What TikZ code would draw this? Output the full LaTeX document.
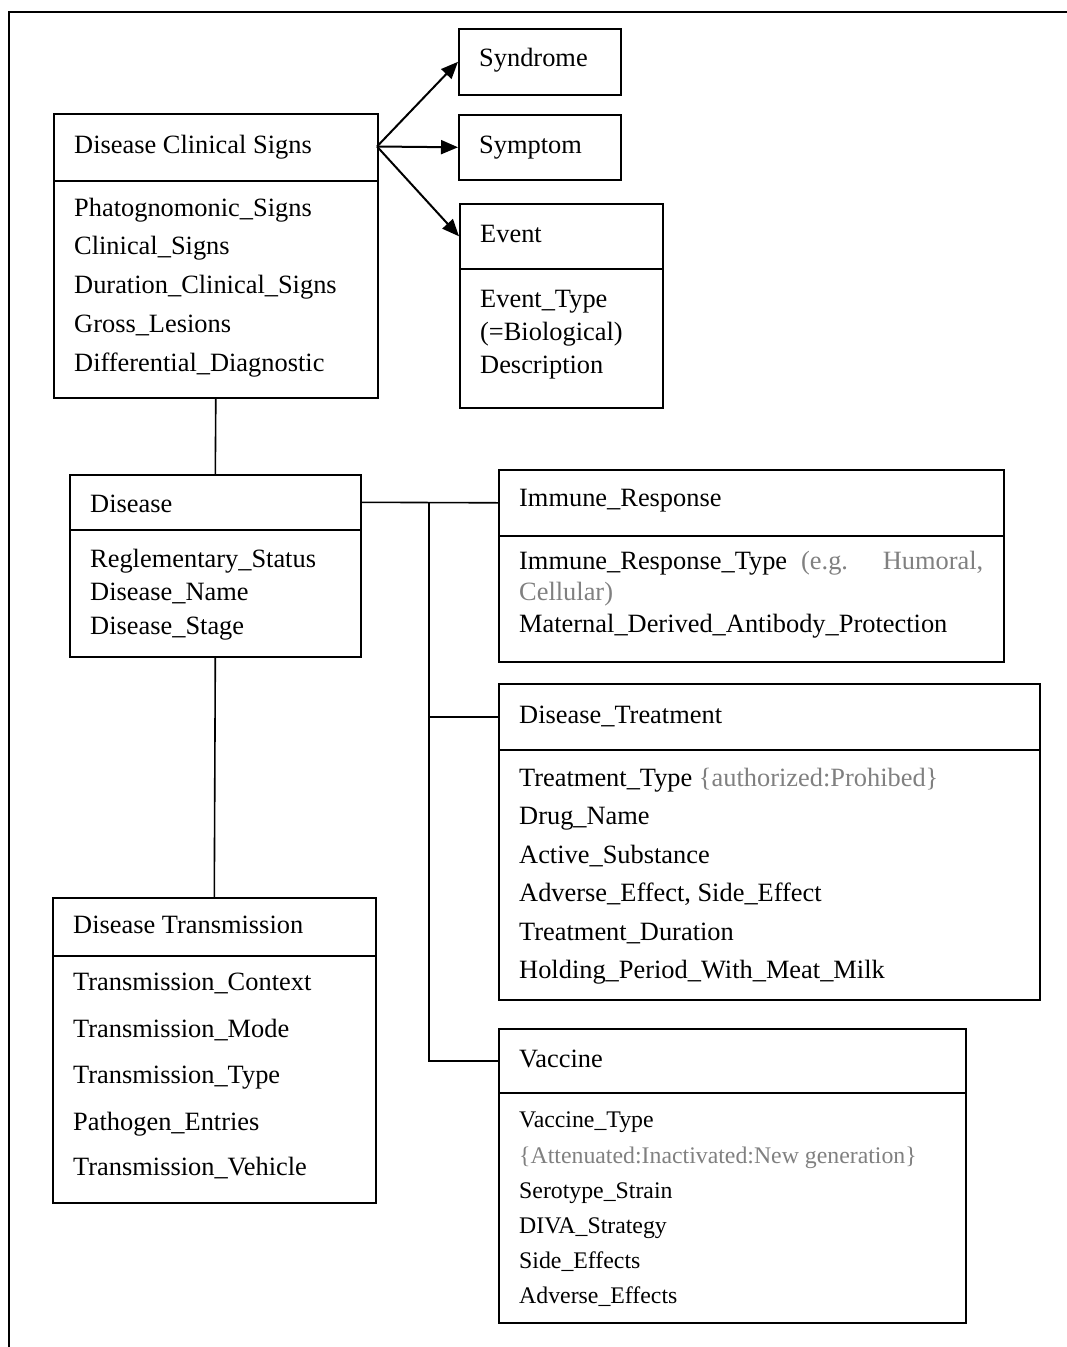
\documentclass[tikz,border=0pt]{standalone}
\usepackage{fontspec}
\setmainfont{Liberation Serif}
\usetikzlibrary{arrows.meta}
\definecolor{note}{RGB}{128,128,128}
\begin{document}
\begin{tikzpicture}[x=1pt,y=-1pt,
  box/.style={draw, line width=1.6pt, inner sep=0pt, anchor=north west},
  lbl/.style={anchor=base west, inner sep=0pt, font=\fontsize{26.4}{30}\selectfont},
  sml/.style={anchor=base west, inner sep=0pt, font=\fontsize{23.8}{28}\selectfont},
  link/.style={line width=1.6pt},
  arr/.style={line width=2pt, -{Triangle[length=17pt,width=14pt]}},
  frame/.style={line width=1.2pt}]
\useasboundingbox (0,0) rectangle (1067,1347);
% outer frame (top and left sides only)
\coordinate (f1) at (1067,12);
\coordinate (f2) at (9,12);
\coordinate (f3) at (9,1347);
\draw[frame] (f1) -- (f2) -- (f3);

% boxes
\node[box, minimum width=324pt, minimum height=67pt] (dcst) at (53,113) {};
\node[box, minimum width=324pt, minimum height=217pt] (dcsb) at (53,180) {};
\node[box, minimum width=162pt, minimum height=66pt] (syn) at (458,28) {};
\node[box, minimum width=162pt, minimum height=65pt] (sym) at (458,114) {};
\node[box, minimum width=203pt, minimum height=65pt] (evt) at (459,203) {};
\node[box, minimum width=203pt, minimum height=139pt] (evb) at (459,268) {};
\node[box, minimum width=291pt, minimum height=55pt] (dist) at (69,474) {};
\node[box, minimum width=291pt, minimum height=127pt] (disb) at (69,529) {};
\node[box, minimum width=505pt, minimum height=66pt] (imt) at (498,469) {};
\node[box, minimum width=505pt, minimum height=126pt] (imb) at (498,535) {};
\node[box, minimum width=541pt, minimum height=66pt] (trt) at (498,683) {};
\node[box, minimum width=541pt, minimum height=250pt] (trb) at (498,749) {};
\node[box, minimum width=467pt, minimum height=64pt] (vat) at (498,1028) {};
\node[box, minimum width=467pt, minimum height=230pt] (vab) at (498,1092) {};
\node[box, minimum width=323pt, minimum height=58pt] (dtt) at (52,897) {};
\node[box, minimum width=323pt, minimum height=247pt] (dtb) at (52,955) {};

% texts: Disease Clinical Signs
\node[lbl] (a0) at (74,153) {Disease Clinical Signs};
\node[lbl] (a1) at (74,216) {Phatognomonic\_Signs};
\node[lbl] (a2) at (74,254) {Clinical\_Signs};
\node[lbl] (a3) at (74,293) {Duration\_Clinical\_Signs};
\node[lbl] (a4) at (74,332) {Gross\_Lesions};
\node[lbl] (a5) at (74,371) {Differential\_Diagnostic};
% Syndrome, Symptom, Event
\node[lbl] (b0) at (479,66) {Syndrome};
\node[lbl] (c0) at (479,153) {Symptom};
\node[lbl] (e0) at (480,242) {Event};
\node[lbl] (e1) at (480,307) {Event\_Type};
\node[lbl] (e2) at (480,340) {(=Biological)};
\node[lbl] (e3) at (480,373) {Description};
% Disease
\node[lbl] (d0) at (90,512) {Disease};
\node[lbl] (d1) at (90,567) {Reglementary\_Status};
\node[lbl] (d2) at (90,600) {Disease\_Name};
\node[lbl] (d3) at (90,634) {Disease\_Stage};
% Immune response
\node[lbl] (i0) at (519,506) {Immune\_Response};
\node[lbl] (i1) at (519,569) {\hbox to 464pt{Immune\_Response\_Type\hspace{14pt}\textcolor{note}{(e.g.}\hfill\textcolor{note}{Humoral,}}};
\node[lbl] (i2) at (519,600) {\textcolor{note}{Cellular)}};
\node[lbl] (i3) at (519,632) {Maternal\_Derived\_Antibody\_Protection};
% Disease treatment
\node[lbl] (t0) at (519,723) {Disease\_Treatment};
\node[lbl] (t1) at (519,786) {Treatment\_Type \textcolor{note}{\{authorized:Prohibed\}}};
\node[lbl] (t2) at (519,824) {Drug\_Name};
\node[lbl] (t3) at (519,863) {Active\_Substance};
\node[lbl] (t4) at (519,901) {Adverse\_Effect, Side\_Effect};
\node[lbl] (t5) at (519,940) {Treatment\_Duration};
\node[lbl] (t6) at (519,978) {Holding\_Period\_With\_Meat\_Milk};
% Vaccine
\node[lbl] (v0) at (519,1067) {Vaccine};
\node[sml] (v1) at (519,1127) {Vaccine\_Type};
\node[sml] (v2) at (519,1163) {\textcolor{note}{\{Attenuated:Inactivated:New generation\}}};
\node[sml] (v3) at (519,1198) {Serotype\_Strain};
\node[sml] (v4) at (519,1233) {DIVA\_Strategy};
\node[sml] (v5) at (519,1268) {Side\_Effects};
\node[sml] (v6) at (519,1303) {Adverse\_Effects};
% Disease transmission
\node[lbl] (s0) at (73,933) {Disease Transmission};
\node[lbl] (s1) at (73,990) {Transmission\_Context};
\node[lbl] (s2) at (73,1037) {Transmission\_Mode};
\node[lbl] (s3) at (73,1083) {Transmission\_Type};
\node[lbl] (s4) at (73,1130) {Pathogen\_Entries};
\node[lbl] (s5) at (73,1175) {Transmission\_Vehicle};

% arrows
\coordinate (fan) at (377,146.5);
\draw[arr] (fan) -- (syn.west);
\draw[arr] (fan) -- (sym.west);
\draw[arr] (fan) -- (evt.west);

% connectors
\draw[link] (dcsb.south) -- (dist.north);
\draw[link] (disb.south) -- (dtt.north);
\draw[link] (dist.east) -- (imt.west);
\coordinate (j1) at (429,502);
\draw[link] (j1) |- (trt.west);
\draw[link] (j1) |- (vat.west);
\end{tikzpicture}
\end{document}
